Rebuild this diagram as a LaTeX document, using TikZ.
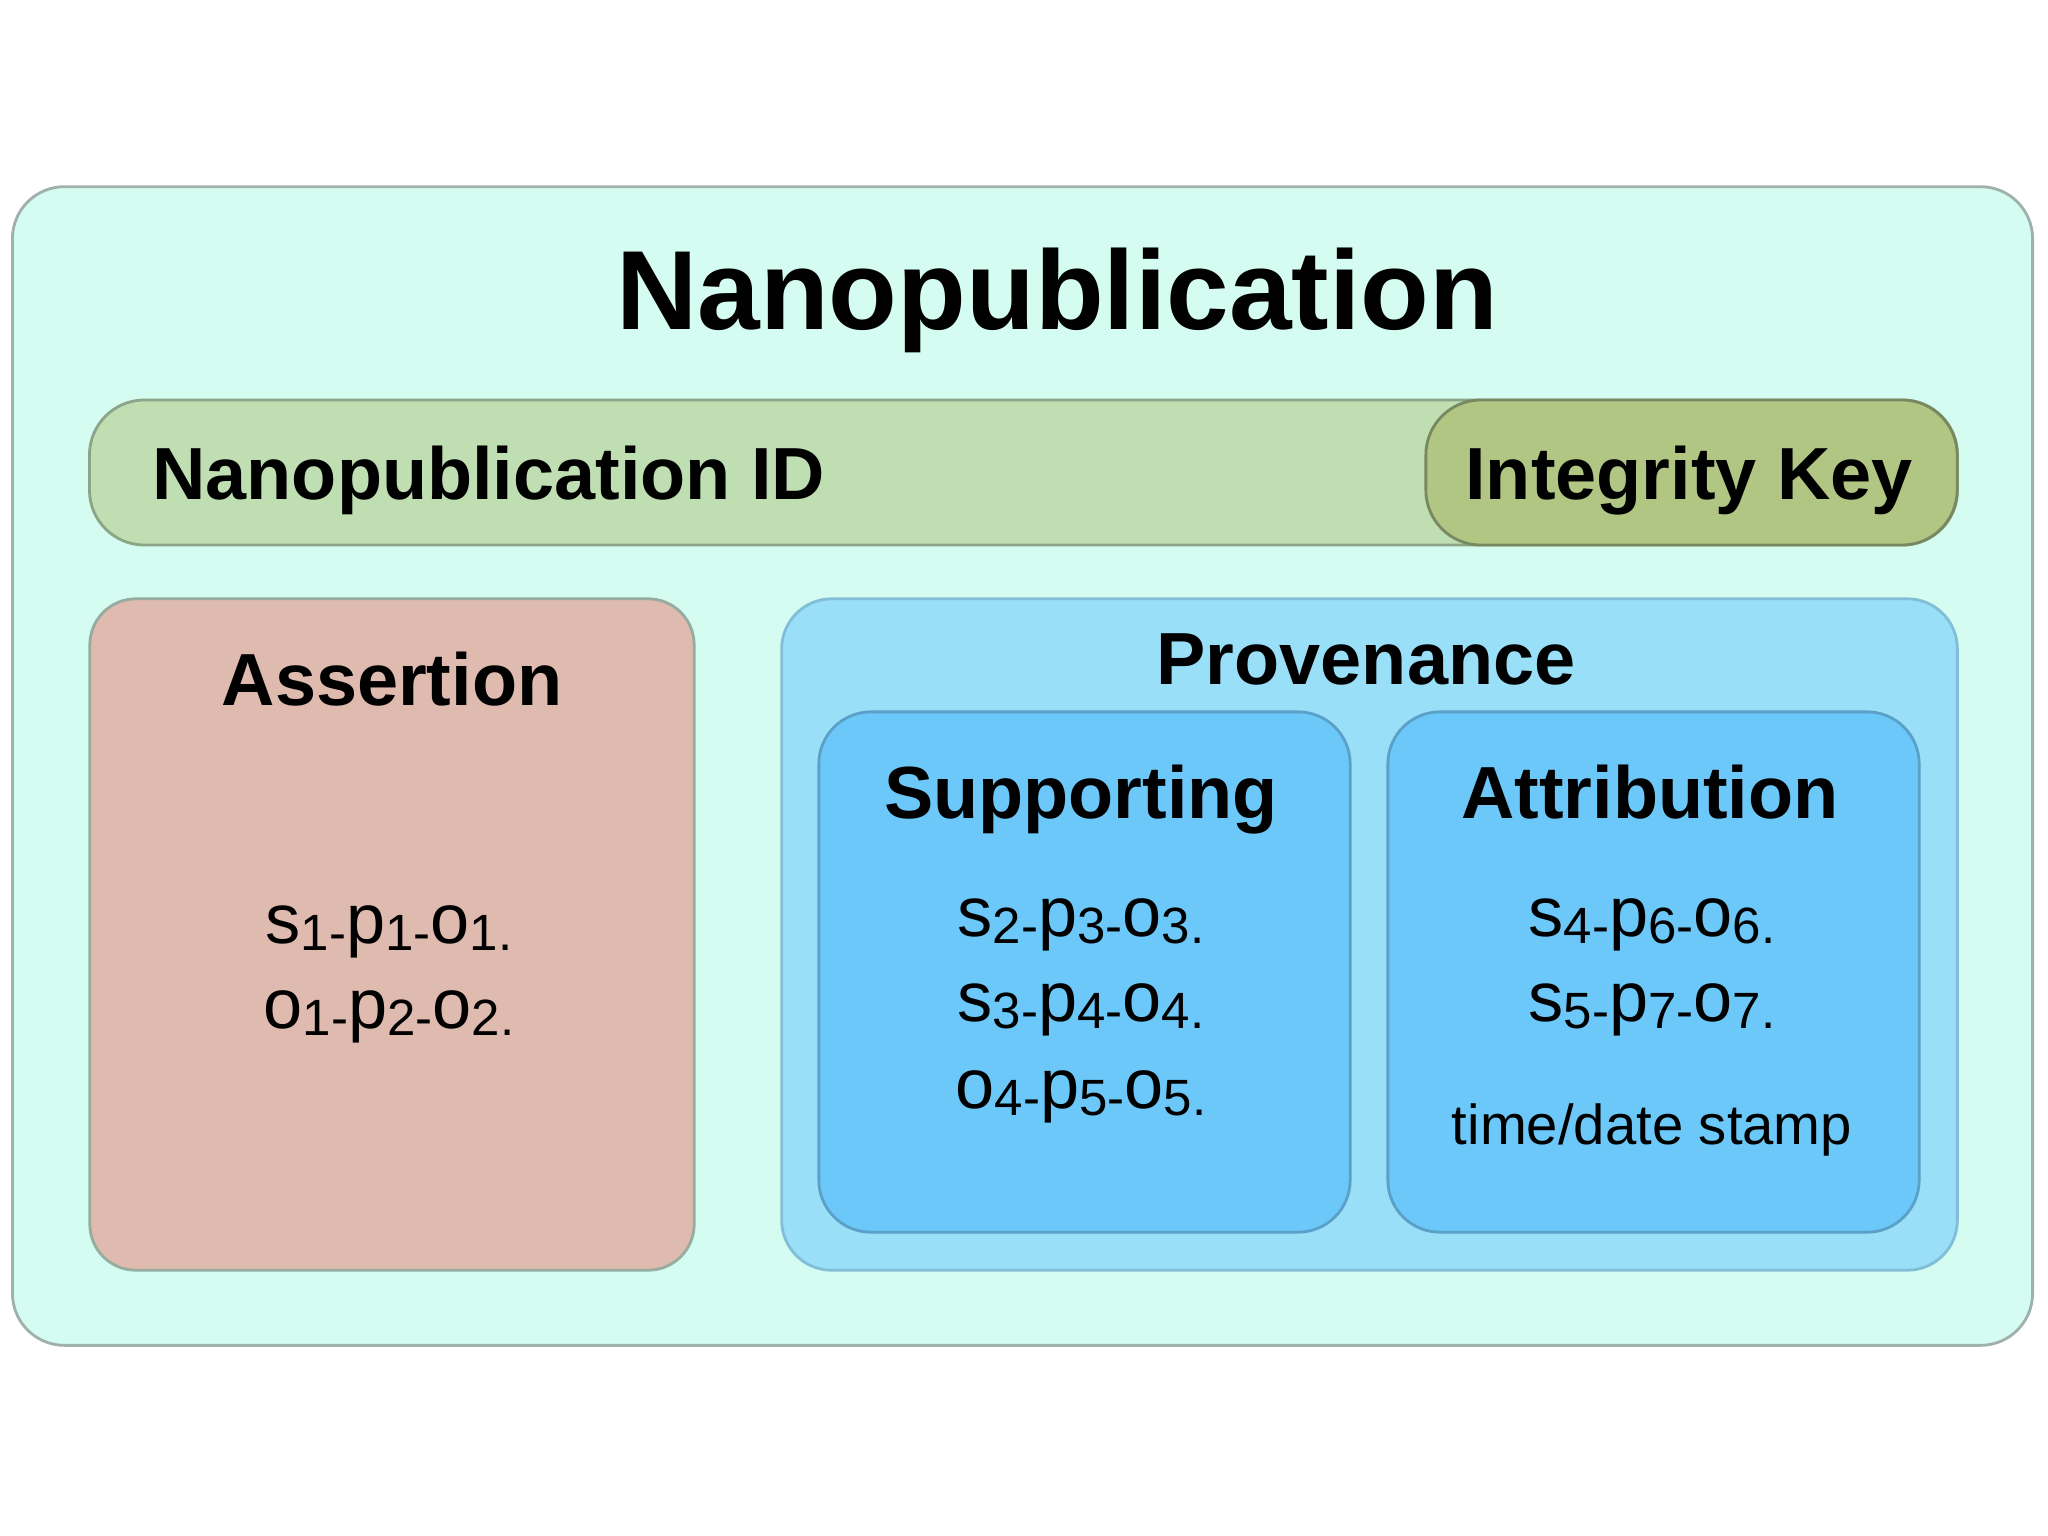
\documentclass[tikz,border=0pt]{standalone}
\usepackage{fontspec}
\setmainfont{Liberation Sans}
\usetikzlibrary{positioning}

\definecolor{nanofill}{RGB}{212,252,240}
\definecolor{nanoline}{RGB}{160,176,172}
\definecolor{idfill}{RGB}{191,222,178}
\definecolor{idline}{RGB}{140,164,136}
\definecolor{keyfill}{RGB}{178,198,132}
\definecolor{keyline}{RGB}{120,136,96}
\definecolor{assfill}{RGB}{223,186,174}
\definecolor{assline}{RGB}{150,172,160}
\definecolor{provfill}{RGB}{153,223,247}
\definecolor{provline}{RGB}{130,190,215}
\definecolor{subfill}{RGB}{108,200,248}
\definecolor{subline}{RGB}{90,160,200}

\newcommand{\low}[1]{\raisebox{-2pt}{\fontsize{14.5}{14.5}\selectfont #1}}

\begin{document}
\begin{tikzpicture}[x=0.01cm, y=-0.01cm,
	box/.style={draw, line width=0.8pt, inner sep=0pt},
	head/.style={anchor=base, font=\fontsize{21}{21}\selectfont\bfseries},
	triple/.style={anchor=base, font=\fontsize{20}{20}\selectfont}]

	\useasboundingbox (0,0) rectangle (2048,1536);

	\node[box, draw=nanoline, fill=nanofill, rounded corners=0.52cm,
		minimum width=20.19cm, minimum height=11.58cm] (nanopub) at (1022.5,766) {};
	\node[anchor=base, font=\fontsize{32}{32}\selectfont\bfseries] (title) at (1057,329) {Nanopublication};

	% identifier bar
	\node[box, draw=idline, fill=idfill, rounded corners=0.55cm,
		minimum width=18.67cm, minimum height=1.45cm] (idbar) at (1023.5,472.5) {};
	\node[box, draw=keyline, fill=keyfill, rounded corners=0.55cm,
		minimum width=5.31cm, minimum height=1.45cm] (keybox) at (1691.5,472.5) {};
	\node[head, anchor=base west] (idtext) at (140,499) {Nanopublication ID};
	\node[head] (keytext) at (1689,499) {Integrity Key};

	% assertion
	\node[box, draw=assline, fill=assfill, rounded corners=0.46cm,
		minimum width=6.04cm, minimum height=6.71cm] (assertion) at (392,934.5) {};
	\node[head] (asstext) at (392,705) {Assertion};
	\node[triple] (a1) at (389,943) {s\low{1-}p\low{1-}o\low{1.}};
	\node[triple] (a2) at (389,1028) {o\low{1-}p\low{2-}o\low{2.}};

	% provenance
	\node[box, draw=provline, fill=provfill, rounded corners=0.5cm,
		minimum width=11.75cm, minimum height=6.71cm] (provenance) at (1369.5,934.5) {};
	\node[head] (provtext) at (1366,684) {Provenance};

	\node[box, draw=subline, fill=subfill, rounded corners=0.52cm,
		minimum width=5.31cm, minimum height=5.2cm] (supporting) at (1084.5,972) {};
	\node[head] (suptext) at (1081,818) {Supporting};
	\node[triple] (s1) at (1081,936) {s\low{2-}p\low{3-}o\low{3.}};
	\node[triple] (s2) at (1081,1021) {s\low{3-}p\low{4-}o\low{4.}};
	\node[triple] (s3) at (1081,1108) {o\low{4-}p\low{5-}o\low{5.}};

	\node[box, draw=subline, fill=subfill, rounded corners=0.52cm,
		minimum width=5.31cm, minimum height=5.2cm] (attribution) at (1653.5,972) {};
	\node[head] (atttext) at (1650,818) {Attribution};
	\node[triple] (t1) at (1652,936) {s\low{4-}p\low{6-}o\low{6.}};
	\node[triple] (t2) at (1652,1021) {s\low{5-}p\low{7-}o\low{7.}};
	\node[anchor=base, font=\fontsize{16}{16}\selectfont] (stamp) at (1652,1144) {time/date stamp};
\end{tikzpicture}
\end{document}
